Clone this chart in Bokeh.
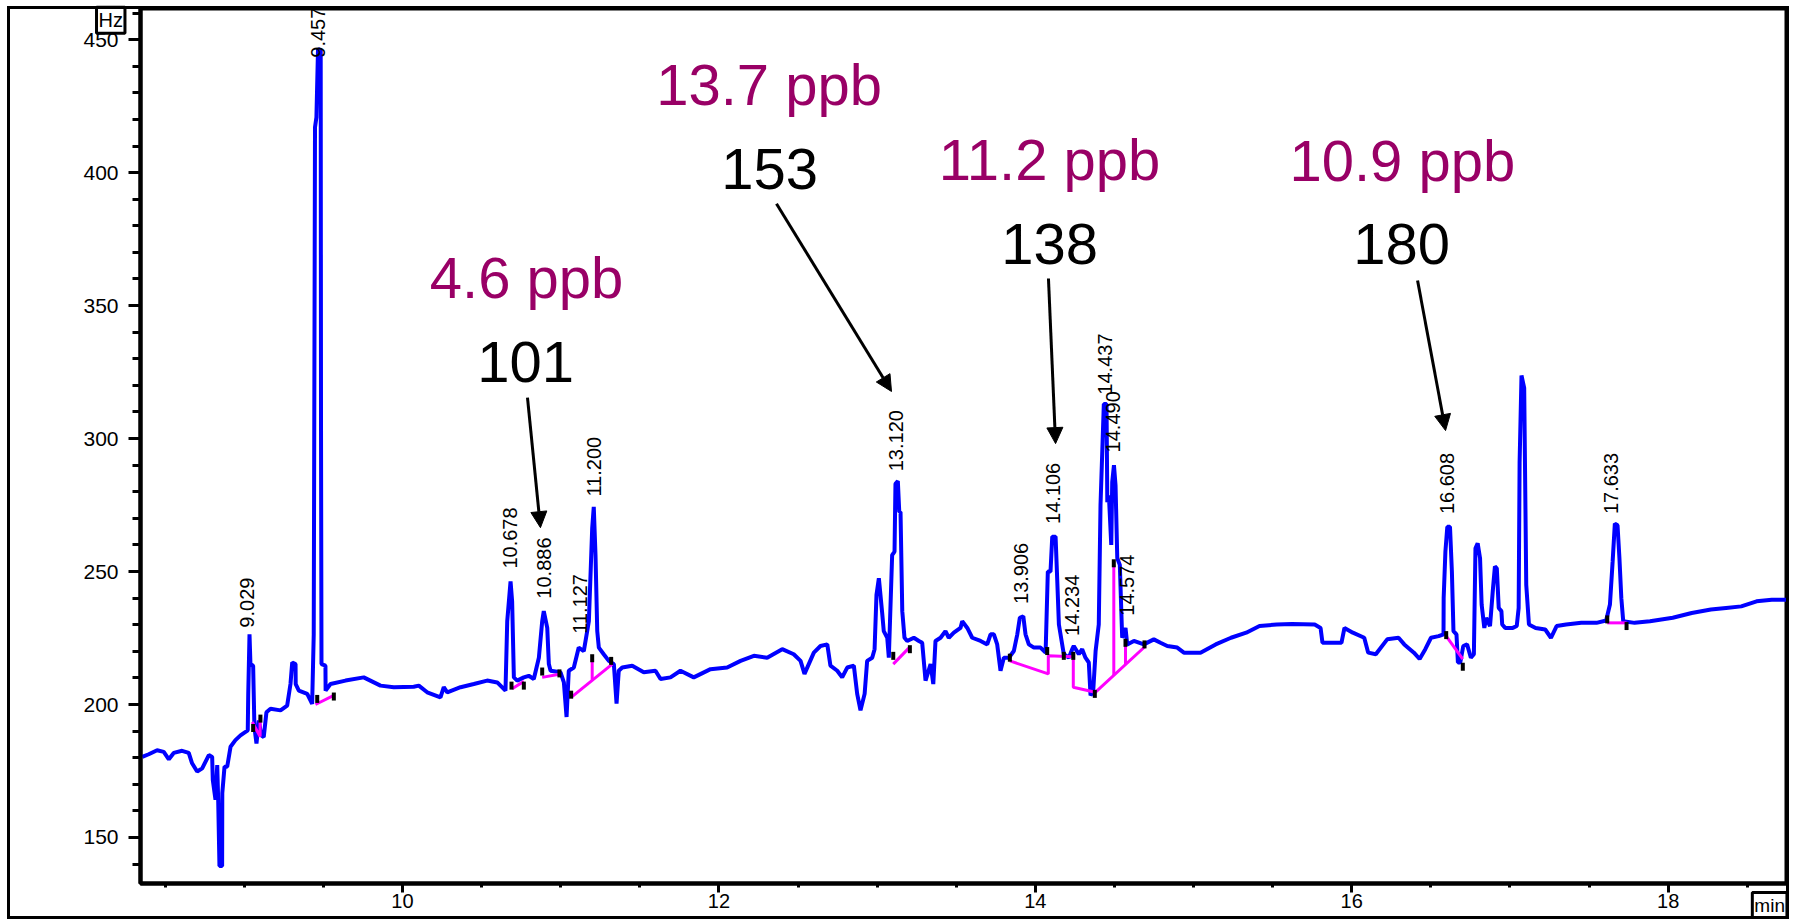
import math
from bokeh.plotting import figure
from bokeh.models import (Range1d, SingleIntervalTicker, Arrow, NormalHead, Label,
                          ColumnDataSource, InlineStyleSheet)
from bokeh.core.properties import value
from bokeh.embed import file_html
from bokeh.resources import INLINE

FONT = "Liberation Sans"

# ---------------- chromatogram trace (time in min, signal in Hz) ----------------
t_part1 = [8.355, 8.396, 8.449, 8.491, 8.523, 8.554, 8.607, 8.649, 8.670, 8.702, 8.734, 8.776,
           8.797, 8.801, 8.818, 8.829, 8.835, 8.843, 8.860, 8.861, 8.875, 8.892, 8.913, 8.944,
           8.976, 9.008, 9.022, 9.025, 9.033, 9.039, 9.056, 9.064, 9.077, 9.092, 9.107, 9.123,
           9.140, 9.166, 9.229, 9.271, 9.292, 9.303, 9.324, 9.325, 9.345, 9.398, 9.429]
v_part1 = [180.3, 181.3, 182.8, 182.2, 179.4, 181.8, 182.6, 181.8, 177.9, 174.8, 176.0, 181.0,
           180.3, 171.6, 164.2, 177.2, 164.2, 139.3, 139.3, 166.7, 176.6, 176.6, 184.1, 186.6,
           188.4, 189.7, 190.3, 204.0, 226.4, 215.2, 214.6, 191.5, 185.3, 194.0, 188.4, 187.8,
           197.1, 198.4, 197.8, 199.6, 207.7, 215.8, 215.2, 207.7, 205.2, 204.0, 200.2]

t_part2 = [9.439, 9.447, 9.456, 9.466, 9.483, 9.485, 9.488, 9.513, 9.514, 9.545, 9.640, 9.755,
           9.861, 9.945, 10.071, 10.103, 10.156, 10.240, 10.261, 10.283, 10.367, 10.451, 10.535,
           10.599, 10.651]
v_part2 = [226.4, 417.0, 420.8, 446.5, 445.9, 303.0, 215.2, 214.6, 205.2, 207.7, 209.0, 210.2,
           207.1, 206.5, 206.7, 207.1, 204.6, 202.7, 206.5, 204.6, 206.5, 207.7, 209.0,
           208.3, 205.2]

t_part3 = [10.662, 10.683, 10.693, 10.704, 10.725, 10.767, 10.798, 10.830, 10.862, 10.883, 10.893,
           10.915, 10.925, 10.936, 10.999, 11.020, 11.037, 11.051, 11.083, 11.114, 11.146, 11.178,
           11.199, 11.209, 11.220, 11.231, 11.241, 11.272, 11.304]
v_part3 = [231.3, 246.3, 238.8, 210.2, 209.0, 210.2, 210.8, 209.6, 217.6, 231.3, 235.1,
           228.8, 215.2, 212.7, 212.1, 208.3, 195.3, 212.7, 213.9, 221.4, 220.1, 231.3,
           266.2, 274.3, 256.2, 227.6, 221.4, 218.9, 216.4]

t_part4 = [11.336, 11.353, 11.367, 11.389, 11.452, 11.525, 11.599, 11.631, 11.694, 11.757, 11.841,
           11.947, 12.052, 12.137, 12.221, 12.305, 12.400, 12.473, 12.516, 12.541, 12.600, 12.642,
           12.685, 12.705, 12.748, 12.779, 12.811, 12.853, 12.874, 12.895, 12.921, 12.937, 12.969,
           12.984, 12.996, 13.011, 13.032, 13.042, 13.064, 13.074]
v_part4 = [215.2, 200.3, 212.7, 213.9, 214.6, 212.1, 212.7, 209.6, 210.2, 212.7, 210.2,
           213.3, 213.9, 216.4, 218.3, 217.6, 220.8, 218.9, 216.4, 211.5, 219.5, 222.0,
           222.6, 214.6, 212.7, 210.2, 213.9, 214.6, 204.0, 197.8, 204.0, 216.4, 217.6,
           220.8, 241.3, 247.5, 234.4, 227.6, 225.1, 217.6]

t_part5 = [13.095, 13.110, 13.116, 13.131, 13.140, 13.148, 13.159, 13.173, 13.190, 13.232, 13.264,
           13.285, 13.295, 13.306, 13.338, 13.355, 13.369, 13.401, 13.432, 13.453, 13.485, 13.527,
           13.538, 13.570, 13.601, 13.654, 13.696, 13.717, 13.738, 13.759, 13.780, 13.801, 13.833,
           13.864, 13.886, 13.902, 13.924, 13.938, 13.959, 13.991, 14.033, 14.065]
v_part5 = [256.2, 257.5, 283.0, 284.0, 272.4, 272.4, 235.1, 225.1, 223.9, 225.1, 223.9,
           223.2, 216.4, 209.0, 215.2, 207.7, 223.9, 225.1, 227.6, 225.1, 227.0, 228.8,
           231.3, 228.8, 225.1, 223.9, 222.6, 226.4, 226.4, 222.6, 212.7, 217.6, 217.6,
           220.1, 226.4, 232.6, 233.2, 226.4, 222.6, 221.4, 221.4, 219.5]

t_part6 = [14.079, 14.096, 14.107, 14.128, 14.138, 14.149, 14.180, 14.212, 14.233, 14.243, 14.275,
           14.296, 14.317, 14.338, 14.349, 14.366, 14.381, 14.401, 14.412, 14.433, 14.450, 14.455,
           14.465, 14.480, 14.486, 14.497, 14.507, 14.518, 14.534, 14.549, 14.570, 14.581, 14.623,
           14.686, 14.749, 14.791, 14.834, 14.897, 14.939]
v_part6 = [250.0, 250.0, 263.1, 263.1, 247.5, 230.1, 218.9, 217.6, 220.8, 222.0, 218.9,
           220.8, 217.6, 215.8, 203.4, 205.2, 220.1, 230.1, 274.9, 313.0, 313.0, 276.1,
           278.6, 260.0, 283.6, 290.0, 282.4, 255.0, 252.5, 225.1, 228.8, 222.6, 223.9,
           222.6, 224.5, 223.2, 222.0, 221.4, 219.5]

t_part7 = [15.044, 15.140, 15.237, 15.333, 15.417, 15.526, 15.622, 15.766, 15.803, 15.815, 15.935,
           15.954, 16.007, 16.079, 16.104, 16.152, 16.224, 16.296, 16.332, 16.393, 16.429, 16.465,
           16.501, 16.549, 16.580]
v_part7 = [219.5, 222.6, 225.1, 227.0, 229.5, 230.1, 230.3, 230.1, 228.8, 223.2, 223.2,
           228.8, 227.0, 225.1, 219.5, 218.9, 224.5, 225.1, 222.6, 219.5, 217.1, 220.8,
           225.1, 225.7, 226.4]

t_part8 = [16.581, 16.592, 16.604, 16.621, 16.633, 16.643, 16.662, 16.671, 16.686, 16.705, 16.729,
           16.753, 16.772, 16.782, 16.796, 16.811, 16.821, 16.838, 16.850, 16.874, 16.893, 16.905,
           16.917, 16.929, 16.946, 16.951, 16.970, 17.018, 17.043, 17.055, 17.061, 17.073, 17.090,
           17.103, 17.120, 17.162, 17.223, 17.259, 17.295]
v_part8 = [240.0, 257.5, 266.8, 266.8, 250.0, 227.6, 226.4, 215.8, 215.8, 222.0, 222.6,
           217.6, 218.9, 258.7, 260.6, 255.0, 237.6, 228.8, 232.6, 229.5, 243.8, 251.9,
           251.2, 236.3, 235.1, 230.1, 228.8, 228.8, 229.5, 236.3, 291.0, 323.7, 319.0,
           245.0, 230.1, 228.8, 228.2, 225.1, 229.5]

t_part9 = [17.355, 17.451, 17.547, 17.608, 17.632, 17.649, 17.663, 17.680, 17.692, 17.704, 17.716,
           17.788, 17.885, 18.029, 18.149, 18.270, 18.366, 18.462, 18.559, 18.655, 18.764]
v_part9 = [230.1, 230.7, 230.7, 231.6, 237.6, 253.7, 268.0, 267.4, 255.0, 240.0, 231.3,
           230.7, 231.3, 232.6, 234.4, 235.7, 236.3, 236.9, 238.8, 239.4, 239.4]

trace_t = (t_part1 + t_part2 + t_part3 + t_part4 + t_part5 + t_part6 + t_part7 + t_part8 + t_part9)
trace_v = (v_part1 + v_part2 + v_part3 + v_part4 + v_part5 + v_part6 + v_part7 + v_part8 + v_part9)
assert len(trace_t) == len(trace_v)

# ---------------- integration baselines and peak start/end markers ----------------
baseline_t = [[9.050, 9.100, 9.100], [9.450, 9.566], [10.693, 10.767], [10.883, 10.999],
              [11.066, 11.326], [11.199, 11.199], [13.102, 13.200],
              [13.839, 14.082, 14.082, 14.240, 14.240, 14.379, 14.697],
              [14.496, 14.496], [14.570, 14.570], [16.597, 16.702], [17.615, 17.737]]
baseline_v = [[193.4, 188.0, 195.0], [200.0, 203.4], [205.9, 208.7], [210.2, 211.5],
              [202.7, 215.2], [216.4, 209.3], [215.2, 221.2],
              [216.4, 211.5, 218.3, 218.0, 206.5, 204.6, 222.0],
              [252.5, 211.0], [222.6, 215.1], [225.7, 217.1], [230.7, 230.7]]

marker_t = [9.056, 9.102, 9.461, 9.566, 10.689, 10.767, 10.883, 10.992, 11.066, 11.199, 11.319,
            13.102, 13.207, 13.839, 14.075, 14.180, 14.240, 14.376, 14.496, 14.570, 14.690,
            16.597, 16.702, 17.615, 17.737]
marker_v = [191.2, 194.7, 202.1, 203.0, 207.1, 207.1, 212.4, 211.7, 203.7, 217.4, 216.4,
            218.3, 220.8, 217.6, 220.1, 218.3, 218.3, 204.0, 253.1, 223.2, 222.6,
            226.1, 214.2, 232.0, 229.5]

# ---------------- peak retention-time labels ----------------
peak_names = ["9.029", "9.457", "10.678", "10.886", "11.127", "11.200", "13.120", "13.906",
              "14.106", "14.234", "14.437", "14.490", "14.574", "16.608", "17.633"]
peak_label_t = [9.020, 9.463, 10.680, 10.894, 11.125, 11.210, 13.119, 13.910,
                14.112, 14.232, 14.438, 14.494, 14.577, 16.599, 17.636]
peak_label_v = [228.9, 443.2, 251.1, 239.8, 226.6, 278.2, 287.7, 237.8,
                267.9, 225.8, 316.5, 294.8, 233.4, 271.6, 271.6]

# ---------------- callouts ----------------
conc_labels = ["4.6 ppb", "13.7 ppb", "11.2 ppb", "10.9 ppb"]
conc_t = [10.784, 12.317, 14.090, 16.320]
conc_v = [360.5, 433.1, 404.9, 404.5]
mass_labels = ["101", "153", "138", "180"]
mass_t = [10.778, 12.320, 14.090, 16.315]
mass_v = [328.6, 401.5, 373.3, 373.3]
arrow_t0 = [10.790, 12.364, 14.083, 16.416]
arrow_v0 = [315.4, 388.3, 360.2, 359.4]
arrow_t1 = [10.872, 13.091, 14.128, 16.593]
arrow_v1 = [266.5, 317.7, 298.1, 303.0]

# unit tags of the axes
unit_texts = ["Hz", "min"]
unit_t = [8.066, 18.532]
unit_v = [462.2, 129.3]
unit_sizes = ["20px", "19px"]

p = figure(frame_width=1646, frame_height=875,
           min_border_left=140, min_border_right=11, min_border_top=8, min_border_bottom=36,
           x_range=Range1d(8.344, 18.748), y_range=Range1d(132.7, 461.7),
           output_backend="svg", toolbar_location=None,
           background_fill_color="white", border_fill_color="white")
p.grid.visible = False
p.outline_line_color = "black"
p.outline_line_width = 4
p.outline_line_alpha = 1.0

p.xaxis.ticker = SingleIntervalTicker(interval=2, num_minor_ticks=4)
p.yaxis.ticker = SingleIntervalTicker(interval=50, num_minor_ticks=5)
for ax in (p.xaxis[0], p.yaxis[0]):
    ax.axis_line_width = 4
    ax.axis_line_color = "black"
    ax.major_tick_in = 0
    ax.minor_tick_in = 0
    ax.major_tick_line_width = 3
    ax.minor_tick_line_width = 3
    ax.major_label_text_font = FONT
    ax.major_label_text_color = "black"
p.xaxis.major_label_text_font_size = "20px"
p.yaxis.major_label_text_font_size = "21px"
p.yaxis.major_tick_out = 12
p.yaxis.minor_tick_out = 8
p.yaxis.major_label_standoff = 10
p.xaxis.major_tick_out = 9
p.xaxis.minor_tick_out = 4
p.xaxis.major_label_standoff = 1

p.line(trace_t, trace_v, line_color="#0000FF", line_width=4)
p.multi_line(baseline_t, baseline_v, line_color="#FF00FF", line_width=3)
p.rect(marker_t, marker_v, width=4, height=8, width_units="screen", height_units="screen",
       fill_color="black", line_color=None)

src_peaks = ColumnDataSource(dict(x=peak_label_t, y=peak_label_v, text=peak_names))
p.text(x="x", y="y", text="text", source=src_peaks, angle=math.pi / 2,
       text_font=value(FONT), text_font_size="20px", text_align="left",
       text_baseline="middle", text_color="black")

src_conc = ColumnDataSource(dict(x=conc_t, y=conc_v, text=conc_labels))
p.text(x="x", y="y", text="text", source=src_conc, text_font=value(FONT),
       text_font_size="58px", text_align="center", text_baseline="alphabetic",
       text_color="#990066")
src_mass = ColumnDataSource(dict(x=mass_t, y=mass_v, text=mass_labels))
p.text(x="x", y="y", text="text", source=src_mass, text_font=value(FONT),
       text_font_size="58px", text_align="center", text_baseline="alphabetic",
       text_color="black")

src_arrows = ColumnDataSource(dict(x0=arrow_t0, y0=arrow_v0, x1=arrow_t1, y1=arrow_v1))
p.add_layout(Arrow(end=NormalHead(size=16, fill_color="black", line_color="black", line_width=1),
                   x_start="x0", y_start="y0", x_end="x1", y_end="y1", source=src_arrows,
                   line_color="black", line_width=3))

# unit tags drawn from the side panel (not clipped to the frame)
for txt, ux, uy, fs in zip(unit_texts, unit_t, unit_v, unit_sizes):
    p.add_layout(Label(x=ux, y=uy, text=txt, text_font=FONT, text_font_size=fs,
                       text_align="left", text_baseline="top", text_color="black",
                       border_line_color="black", border_line_width=3,
                       background_fill_color="white", padding=2), "left")

# thin black frame round the whole picture
p.stylesheets = [InlineStyleSheet(css="""
:host { position: relative; }
:host::after { content: ""; position: absolute; left: 7px; top: 6px; width: 1782px;
  height: 913px; border: 3px solid #000; box-sizing: border-box; pointer-events: none;
  z-index: 50; }
""")]

open("out.html", "w").write(file_html(p, INLINE))
